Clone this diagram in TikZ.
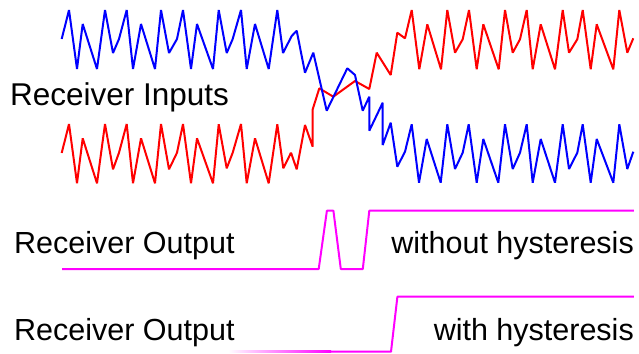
\documentclass[tikz,border=0pt]{standalone}
\usepackage{fontspec}
\setmainfont{Liberation Sans}
\definecolor{wblue}{RGB}{0,0,255}
\definecolor{wred}{RGB}{255,0,0}
\definecolor{wmag}{RGB}{255,0,255}
\tikzset{
  wave/.style={line width=2pt, line join=bevel},
  outline/.style={line width=2pt, color=wmag, line join=bevel},
  lbl/.style={inner sep=0pt, font=\fontsize{30.5}{36}\selectfont}
}
\begin{document}
\begin{tikzpicture}[x=1pt,y=-1pt]
\useasboundingbox (0,0) rectangle (639,353);
% red input
\draw[wave, wred] (61.7,153) -- (69,124) -- (77,183.3) -- (82.7,138.3) -- (97,183.3) -- (105,124) -- (113,169.3) -- (119,152.7) -- (126.7,124) -- (133,183.3) -- (141,138.3) -- (155,183.3) -- (161,124) -- (169,169.3) -- (177,152.7) -- (183,124) -- (191,183.3) -- (197,138.3) -- (213,183.3) -- (218.7,124.3) -- (226.7,168.3) -- (232.7,152.7) -- (241,124) -- (246.7,183.3) -- (255,138.3) -- (268.7,183.3) -- (277.3,124.3) -- (283.3,168.3) -- (291,152.7) -- (296.7,169.3) -- (305,125) -- (312.7,146.7) -- (312.7,109.3) -- (319.3,88.3) -- (333.3,96.7) -- (355,81) -- (369.3,89) -- (376.7,52.7) -- (390.7,75) -- (397.3,32.7) -- (405,38.3) -- (411.7,10) -- (419.3,69.3) -- (427.3,24.3) -- (441,69.3) -- (447.3,10) -- (455,52.7) -- (462.7,39.3) -- (469,10) -- (476.7,69.3) -- (483.3,24.3) -- (498.7,69.3) -- (505,10) -- (512.7,52.7) -- (520,39.3) -- (526.7,10) -- (532.7,69.3) -- (540.7,24.3) -- (555,69.3) -- (562.7,10) -- (569,52.7) -- (577.3,39.3) -- (582.7,10) -- (590.7,69.3) -- (596.7,24.3) -- (613.3,69.3) -- (619.3,10) -- (627.3,52.7) -- (633.3,38.3);
% blue input
\draw[wave, wblue] (61.7,39) -- (69,10) -- (77,69) -- (82.7,24) -- (97,69) -- (105,10) -- (113,53) -- (119,39) -- (126.7,10) -- (133,69) -- (141,24) -- (155,69) -- (161,10) -- (169,53) -- (177,39) -- (183,10) -- (191,69) -- (197,24) -- (213,69) -- (218.7,10) -- (226.7,53) -- (232.7,39) -- (241,10) -- (246.7,69) -- (255,24) -- (268.7,69) -- (277.3,10) -- (283,53) -- (291.7,36) -- (296.7,30.7) -- (305,72.7) -- (313.3,52.7) -- (326.7,110.7) -- (347.3,68.3) -- (355,75) -- (362.7,110.7) -- (369.3,96.7) -- (369.3,130.7) -- (382.7,102.7) -- (382.7,145) -- (390.7,122.7) -- (397.3,166.7) -- (405,151.7) -- (411.7,124.3) -- (419,182.7) -- (426.7,139) -- (440.7,182.7) -- (447.3,124.3) -- (455,169) -- (462.7,152.7) -- (468.7,124.3) -- (476.7,182.7) -- (483.3,139) -- (498.3,182.7) -- (505,124.3) -- (512.7,169) -- (520,152.7) -- (526.7,124.3) -- (532.7,182.7) -- (540.7,139) -- (555,182.7) -- (562.7,124.3) -- (569,169) -- (577.3,152.7) -- (582.7,124.3) -- (590.7,182.7) -- (596.7,139) -- (613.3,182.7) -- (619.3,124.3) -- (627.3,169) -- (633.3,151.7);
% output without hysteresis
\draw[outline] (62,269) -- (318.7,269) -- (326.9,210.7) -- (333.4,210.7) -- (340.8,269) -- (362.8,269) -- (369.3,210.7) -- (633.8,210.7);
% output with hysteresis
\shade[left color=white, right color=wmag] (228,350.7) rectangle (331,352.7);
\draw[outline] (330,351.7) -- (391,351.7) -- (397.4,296.7) -- (633.8,296.7);
% labels
\node[lbl, anchor=base west, font=\fontsize{31.5}{37}\selectfont] (inputs) at (10,105) {Receiver Inputs};
\node[lbl, anchor=base west] (out1) at (14,253.3) {Receiver Output};
\node[lbl, anchor=base east] (nohys) at (634,253.3) {without hysteresis};
\node[lbl, anchor=base west] (out2) at (14,340) {Receiver Output};
\node[lbl, anchor=base east] (hys) at (634,340) {with hysteresis};
\end{tikzpicture}
\end{document}
